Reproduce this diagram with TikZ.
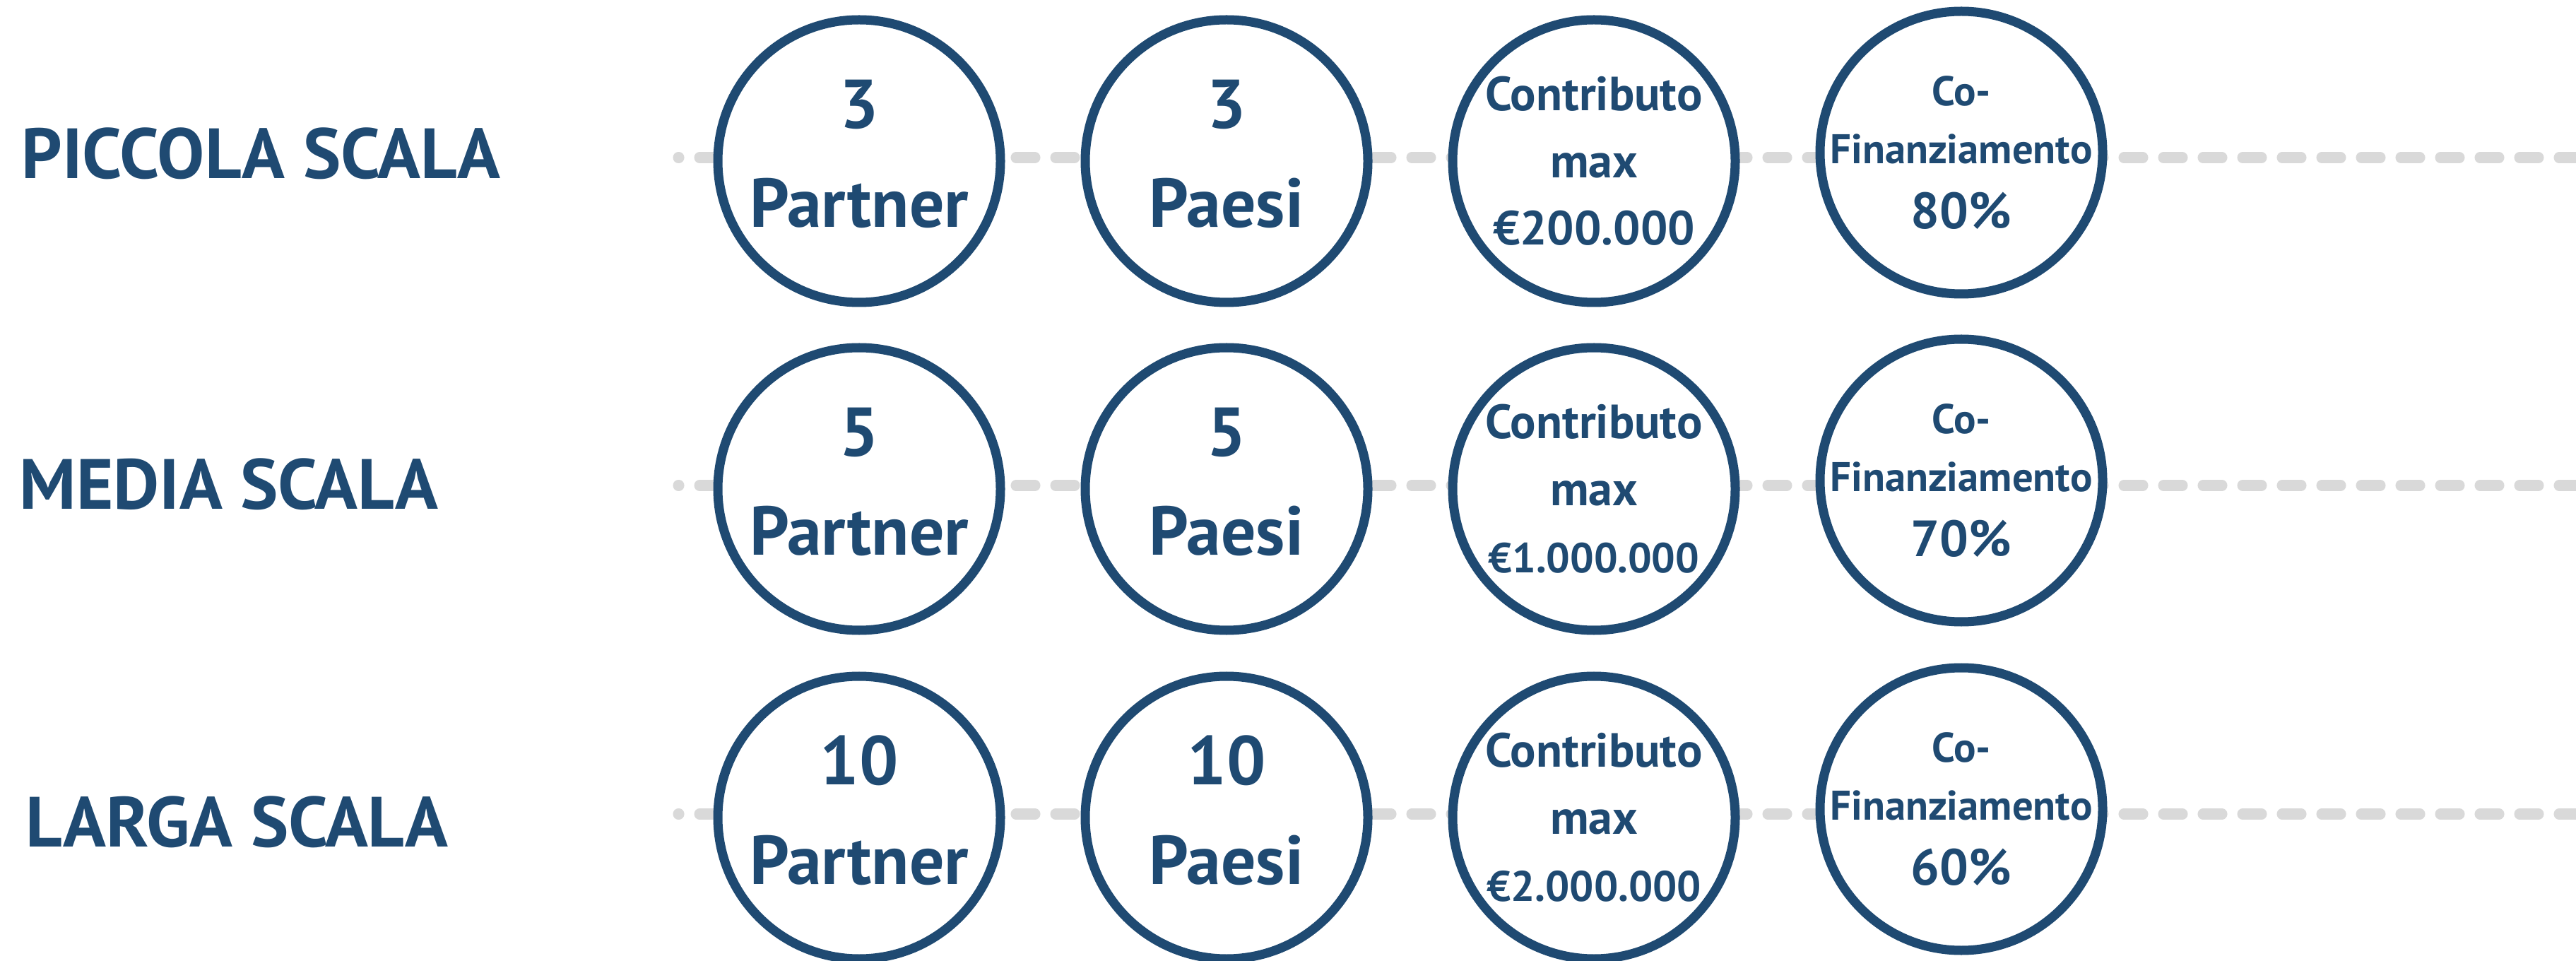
\documentclass[tikz,border=0pt]{standalone}
\usepackage{fontspec}
\setmainfont{PT Sans}
\definecolor{navy}{HTML}{1F4A72}
\definecolor{dashgray}{HTML}{D9D9D9}
\tikzset{
  ring/.style={circle, draw=navy, line width=3.7pt, fill=white, minimum size=4cm, inner sep=0pt},
  scalelbl/.style={anchor=base west, inner sep=0pt, text=navy, font=\fontsize{28.6}{32}\selectfont\bfseries},
  bigtxt/.style={align=center, inner sep=0pt, text=navy, font=\fontsize{27.8}{40}\selectfont\bfseries},
  midtxt/.style={align=center, inner sep=0pt, text=navy, font=\fontsize{19.3}{27}\selectfont\bfseries},
  smalltxt/.style={align=center, inner sep=0pt, text=navy, font=\fontsize{16.7}{23.3}\selectfont\bfseries},
  track/.style={draw=dashgray, line width=4.3pt, line cap=round, dash pattern=on 0.27cm off 0.29cm, dash phase=0.26cm}
}
\begin{document}
\begin{tikzpicture}
		%%%%% START %%%%%
		\useasboundingbox (0, 0) rectangle (36.46, 13.59);
		
		% dashed tracks behind the circles
		\coordinate (s1) at (9.60, 11.36);
		\coordinate (e1) at (36.70, 11.36);
		\coordinate (s2) at (9.60, 6.72);
		\coordinate (e2) at (36.70, 6.72);
		\coordinate (s3) at (9.60, 2.07);
		\coordinate (e3) at (36.70, 2.07);
		\draw[track] (s1) -- (e1);
		\draw[track] (s2) -- (e2);
		\draw[track] (s3) -- (e3);
		
		% row labels
		\node[scalelbl] (small) at (0.30, 11.06) {PICCOLA SCALA};
		\node[scalelbl] (medium) at (0.27, 6.38) {MEDIA SCALA};
		\node[scalelbl] (large) at (0.36, 1.61) {LARGA SCALA};
		
		% piccola scala
		\node[ring] (r1a) at (12.16, 11.31) {};
		\node[ring] (r1b) at (17.36, 11.31) {};
		\node[ring] (r1c) at (22.56, 11.31) {};
		\node[ring] (r1d) at (27.76, 11.43) {};
		\node[bigtxt] (t1a) at ([yshift=1mm]r1a.center) {3\\Partner};
		\node[bigtxt] (t1b) at ([yshift=1mm]r1b.center) {3\\Paesi};
		\node[midtxt] (t1c) at (r1c.center) {Contributo\\max\\€200.000};
		\node[smalltxt] (t1d) at (r1d.center) {Co-\\Finanziamento\\[3pt]{\fontsize{20.5}{23.3}\selectfont 80\%}};
		
		% media scala
		\node[ring] (r2a) at (12.16, 6.67) {};
		\node[ring] (r2b) at (17.36, 6.67) {};
		\node[ring] (r2c) at (22.56, 6.67) {};
		\node[ring] (r2d) at (27.76, 6.79) {};
		\node[bigtxt] (t2a) at ([yshift=1mm]r2a.center) {5\\Partner};
		\node[bigtxt] (t2b) at ([yshift=1mm]r2b.center) {5\\Paesi};
		\node[midtxt] (t2c) at (r2c.center) {Contributo\\max\\{\fontsize{16.9}{27}\selectfont €1.000.000}};
		\node[smalltxt] (t2d) at (r2d.center) {Co-\\Finanziamento\\[3pt]{\fontsize{20.5}{23.3}\selectfont 70\%}};
		
		% larga scala
		\node[ring] (r3a) at (12.16, 2.02) {};
		\node[ring] (r3b) at (17.36, 2.02) {};
		\node[ring] (r3c) at (22.56, 2.02) {};
		\node[ring] (r3d) at (27.76, 2.14) {};
		\node[bigtxt] (t3a) at ([yshift=1mm]r3a.center) {10\\Partner};
		\node[bigtxt] (t3b) at ([yshift=1mm]r3b.center) {10\\Paesi};
		\node[midtxt] (t3c) at (r3c.center) {Contributo\\max\\{\fontsize{17.2}{27}\selectfont €2.000.000}};
		\node[smalltxt] (t3d) at (r3d.center) {Co-\\Finanziamento\\[3pt]{\fontsize{20.5}{23.3}\selectfont 60\%}};
		%%%%% END %%%%%
	\end{tikzpicture}
\end{document}
